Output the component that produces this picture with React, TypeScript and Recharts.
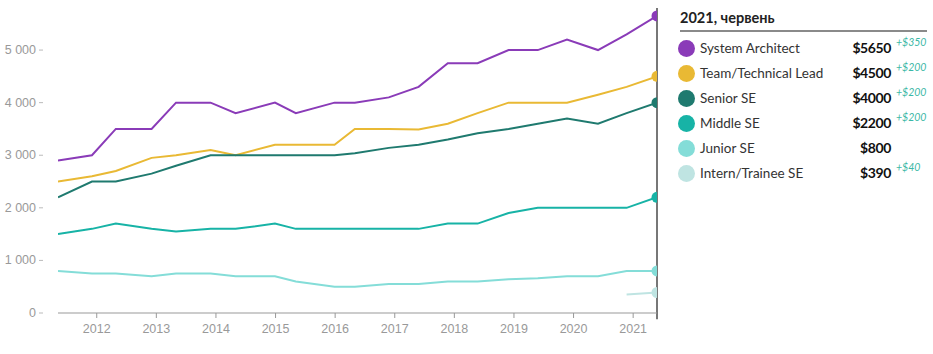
import { LineChart, Line, XAxis, YAxis, ReferenceLine } from "recharts";

// survey periods as fractional years (May/June and December waves)
const periods = [
  2011.35, 2011.92, 2012.32, 2012.92, 2013.33, 2013.91, 2014.33, 2014.99, 2015.34, 2015.99,
  2016.33, 2016.9, 2017.4, 2017.89, 2018.39, 2018.91, 2019.4, 2019.89, 2020.41, 2020.89, 2021.4,
];

const architect = [2900, 3000, 3500, 3500, 4000, 4000, 3800, 4000, 3800, 4000, 4000, 4100, 4300, 4750, 4750, 5000, 5000, 5200, 5000, 5300, 5650];
const teamLead = [2500, 2600, 2700, 2950, 3000, 3100, 3000, 3200, 3200, 3200, 3500, 3500, 3490, 3600, 3800, 4000, 4000, 4000, 4150, 4300, 4500];
const senior = [2200, 2500, 2500, 2650, 2800, 3000, 3000, 3000, 3000, 3000, 3040, 3140, 3200, 3300, 3420, 3500, 3600, 3700, 3600, 3800, 4000];
const middle = [1500, 1600, 1700, 1600, 1550, 1600, 1600, 1700, 1600, 1600, 1600, 1600, 1600, 1700, 1700, 1900, 2000, 2000, 2000, 2000, 2200];
const junior = [800, 750, 750, 700, 750, 750, 700, 700, 600, 500, 500, 550, 550, 600, 600, 640, 660, 700, 700, 800, 800];
const intern = [null, null, null, null, null, null, null, null, null, null, null, null, null, null, null, null, null, null, null, 350, 390];

const yearTicks = [2012, 2013, 2014, 2015, 2016, 2017, 2018, 2019, 2020, 2021];
const valueTicks = [0, 1000, 2000, 3000, 4000, 5000];

const series = [
  { key: "sa", name: "System Architect", color: "#8a3bb8", values: architect },
  { key: "tl", name: "Team/Technical Lead", color: "#e9b934", values: teamLead },
  { key: "se", name: "Senior SE", color: "#1f7a6f", values: senior },
  { key: "mi", name: "Middle SE", color: "#17b3a6", values: middle },
  { key: "ju", name: "Junior SE", color: "#84ddd8", values: junior },
  { key: "in", name: "Intern/Trainee SE", color: "#bfe4e2", values: intern },
];

const rows = periods.map((t, i) => {
  const r: any = { t };
  series.forEach((s) => (r[s.key] = s.values[i]));
  return r;
});
const last = periods.length - 1;

const fmt = (v: number) => (v >= 1000 ? `${Math.floor(v / 1000)} ${String(v % 1000).padStart(3, "0")}` : String(v));

const YTick = ({ x, y, payload }: any) => (
  <g>
    <text x={x - 14} y={y} dy={4} textAnchor="end" fill="#999" fontSize={12.5} fontFamily="Liberation Sans, Arial, sans-serif">
      {fmt(payload.value)}
    </text>
    <line x1={x - 11} x2={x - 7} y1={y} y2={y} stroke="#bbb" />
  </g>
);

const font = "Lato, 'Noto Sans', sans-serif";

export default function App() {
  return (
    <div style={{ position: "absolute", left: 0, top: 0, width: 933, height: 354, background: "#fff" }}>
      <LineChart width={670} height={354} data={rows} margin={{ top: 8, right: 13, left: 0, bottom: 11 }}>
        <XAxis
          dataKey="t"
          type="number"
          domain={[2011.35, 2021.4]}
          ticks={yearTicks}
          allowDataOverflow
          height={30}
          stroke="#999"
          tickSize={5}
          tick={{ fill: "#999", fontSize: 12.5, fontFamily: "Liberation Sans, Arial, sans-serif", dy: 4 }}
        />
        <YAxis
          domain={[0, 5800]}
          ticks={valueTicks}
          width={58}
          axisLine={false}
          tickLine={false}
          tick={<YTick />}
        />
        <ReferenceLine
          segment={[{ x: 2021.4, y: -120 }, { x: 2021.4, y: 5800 }]}
          stroke="#777"
          strokeWidth={2}
          ifOverflow="visible"
        />
        {series.map((s) => (
          <Line
            key={s.key}
            dataKey={s.key}
            stroke={s.color}
            strokeWidth={2}
            isAnimationActive={false}
            connectNulls={false}
            activeDot={false}
            dot={(p: any) =>
              p.index === last ? (
                <circle key={`${s.key}-d${p.index}`} cx={p.cx} cy={p.cy} r={5.5} fill={s.color} />
              ) : (
                <g key={`${s.key}-d${p.index}`} />
              )
            }
          />
        ))}
      </LineChart>
      <div style={{ position: "absolute", left: 680, top: 6, width: 247, fontFamily: font, color: "#222" }}>
        <div style={{ fontWeight: 700, fontSize: 14.5, height: 24, lineHeight: "24px" }}>2021, червень</div>
        <div style={{ borderTop: "2px solid #8a8a8a", marginTop: 0 }} />
        {series.map((s, i) => {
          const cur = s.values[last] as number;
          const prev = s.values[last - 1] as number;
          const delta = cur - prev;
          return (
            <div key={s.key} style={{ position: "absolute", top: 33 + i * 25, left: 0, width: 247, height: 20 }}>
              <div style={{ position: "absolute", left: -2, top: 1, width: 17, height: 17, borderRadius: "50%", background: s.color }} />
              <div style={{ position: "absolute", left: 20, top: 1, fontSize: 13.5, color: "#333", whiteSpace: "nowrap" }}>{s.name}</div>
              <div style={{ position: "absolute", right: 36, top: 0, fontSize: 14, letterSpacing: -0.4, fontWeight: 700, color: "#111" }}>${cur}</div>
              {delta > 0 && (
                <div style={{ position: "absolute", left: 216, top: -3, fontSize: 10.5, fontStyle: "italic", color: "#3bb8a6" }}>+${delta}</div>
              )}
            </div>
          );
        })}
      </div>
    </div>
  );
}
